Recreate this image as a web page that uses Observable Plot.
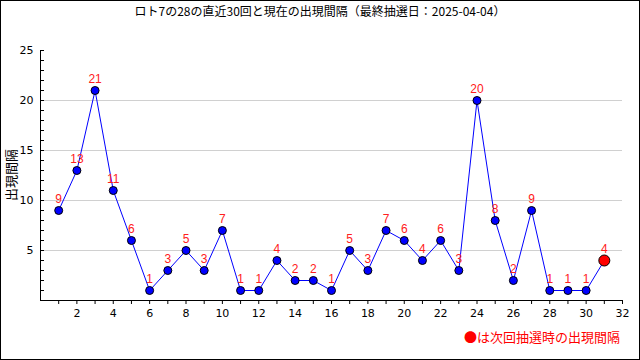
<!DOCTYPE html>
<html><head><meta charset="utf-8">
<script src="https://cdn.jsdelivr.net/npm/d3@7"></script>
<script src="https://cdn.jsdelivr.net/npm/@observablehq/plot@0.6"></script>
<style>
body{margin:0;background:#fff;}
#wrap{position:relative;width:640px;height:360px;overflow:hidden;font-family:"Noto Sans CJK JP",sans-serif;}
#border{position:absolute;left:0;top:0;width:638px;height:358px;border:1px solid #000;pointer-events:none;}
#title{position:absolute;left:0;top:2px;width:640px;text-align:center;font-size:12px;color:#000;}
#ylab{position:absolute;left:10px;top:175px;transform:translate(-50%,-50%) rotate(-90deg);font-size:13px;white-space:nowrap;color:#000;}
#note{position:absolute;right:20px;top:327px;font-size:13px;color:#ff0000;}
#chart{position:absolute;left:0;top:0;}
</style></head>
<body>
<div id="wrap">
<div id="chart"></div>
<div id="title">ロト7の28の直近30回と現在の出現間隔（最終抽選日：2025-04-04）</div>
<div id="ylab">出現間隔</div>
<div id="note">●は次回抽選時の出現間隔</div>
<div id="border"></div>
</div>
<script>
const draws = [1,2,3,4,5,6,7,8,9,10,11,12,13,14,15,16,17,18,19,20,21,22,23,24,25,26,27,28,29,30];
const intervals = [9,13,21,11,6,1,3,5,3,7,1,1,4,2,2,1,5,3,7,6,4,6,3,20,8,2,9,1,1,1];
const currentDraw = 31;
const currentInterval = 4;
const yTickLabels = [5,10,15,20,25];
const yMinorTicks = [1,2,3,4,5,6,7,8,9,10,11,12,13,14,15,16,17,18,19,20,21,22,23,24,25];
const gridValues = [5,10,15,20];
const xTickLabels = [2,4,6,8,10,12,14,16,18,20,22,24,26,28,30,32];
const xMinorTicks = [1,2,3,4,5,6,7,8,9,10,11,12,13,14,15,16,17,18,19,20,21,22,23,24,25,26,27,28,29,30,31,32];

const past = draws.map((d,i)=>({x:d,y:intervals[i]}));
const cur = [{x:currentDraw,y:currentInterval}];
const all = past.concat(cur);

const chart = Plot.plot({
  width:640, height:360,
  marginLeft:40, marginRight:18, marginTop:50, marginBottom:60,
  style:{fontFamily:"DejaVu Sans, sans-serif", fontSize:"11px", background:"transparent"},
  x:{domain:[0,32], label:null},
  y:{domain:[0,25], label:null},
  marks:[
    Plot.gridY(gridValues,{stroke:"#d0d0d0",strokeOpacity:1}),
    Plot.axisY(yMinorTicks,{tickSize:-4,text:null,label:null,stroke:"#000"}),
    Plot.axisY(yTickLabels,{tickSize:0,tickPadding:7,label:null,fill:"#000"}),
    Plot.axisX(xMinorTicks,{tickSize:4,text:null,label:null,stroke:"#000"}),
    Plot.axisX(xTickLabels,{tickSize:0,tickPadding:9,label:null,fill:"#000"}),
    Plot.ruleX([0],{stroke:"#000"}),
    Plot.ruleY([0],{stroke:"#000"}),
    Plot.line(all,{x:"x",y:"y",stroke:"#0000ff",strokeWidth:1}),
    Plot.dot(past,{x:"x",y:"y",r:4,fill:"#0000ff",stroke:"#000",strokeWidth:1}),
    Plot.dot(cur,{x:"x",y:"y",r:5.5,fill:"#ff0000",stroke:"#000",strokeWidth:1}),
    Plot.text(all,{x:"x",y:"y",text:d=>String(d.y),dy:-11,fill:"#ff2020",fontSize:12,fontFamily:"Liberation Sans, sans-serif"})
  ]
});
document.getElementById("chart").appendChild(chart);
</script>
</body></html>
